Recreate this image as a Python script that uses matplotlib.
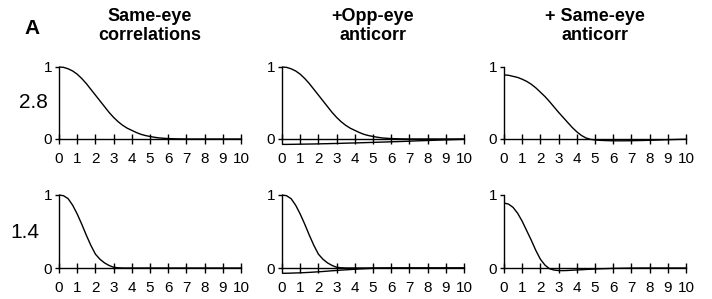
import matplotlib.pyplot as plt

plt.rcParams['font.family'] = ['Liberation Sans', 'DejaVu Sans']

# sample positions (x) and curve values
x = [0, 0.25, 0.5, 0.75, 1, 1.25, 1.5, 1.75, 2, 2.25, 2.5, 2.75, 3, 3.25, 3.5, 3.75,
     4, 4.25, 4.5, 4.75, 5, 5.25, 5.5, 5.75, 6, 6.5, 7, 7.5, 8, 8.5, 9, 9.5, 10]
same_28 = [1.0, 0.995, 0.975, 0.945, 0.9, 0.84, 0.77, 0.69, 0.61, 0.53, 0.45, 0.37,
           0.30, 0.24, 0.19, 0.15, 0.12, 0.09, 0.065, 0.048, 0.035, 0.024, 0.015,
           0.01, 0.006, 0.002, 0, 0, 0, 0, 0, 0, 0]
same_14 = [1.0, 0.99, 0.95, 0.86, 0.74, 0.6, 0.45, 0.31, 0.19, 0.12, 0.07, 0.035,
           0.01, 0.003, 0, 0, 0, 0, 0, 0, 0, 0, 0, 0, 0, 0, 0, 0, 0, 0, 0, 0, 0]
opp_28 = [-0.075, -0.075, -0.074, -0.073, -0.072, -0.071, -0.07, -0.069, -0.068,
          -0.066, -0.065, -0.063, -0.062, -0.06, -0.058, -0.056, -0.055, -0.053,
          -0.051, -0.049, -0.047, -0.045, -0.043, -0.041, -0.039, -0.035, -0.03,
          -0.025, -0.021, -0.016, -0.012, -0.008, -0.004]
opp_14 = [-0.072, -0.072, -0.07, -0.068, -0.066, -0.063, -0.06, -0.056, -0.052,
          -0.048, -0.043, -0.038, -0.034, -0.029, -0.025, -0.021, -0.017, -0.013,
          -0.01, -0.007, -0.004, -0.003, -0.002, -0.001, 0, 0, 0, 0, 0, 0, 0, 0, 0]
both_28 = [0.89, 0.885, 0.87, 0.855, 0.83, 0.8, 0.76, 0.71, 0.65, 0.59, 0.52, 0.445,
           0.37, 0.3, 0.23, 0.16, 0.1, 0.05, 0.015, -0.005, -0.013, -0.018, -0.021,
           -0.023, -0.025, -0.025, -0.024, -0.021, -0.018, -0.014, -0.01, -0.006, -0.003]
both_14 = [0.89, 0.875, 0.83, 0.75, 0.64, 0.51, 0.38, 0.24, 0.12, 0.04, -0.01, -0.028,
           -0.035, -0.036, -0.034, -0.03, -0.027, -0.024, -0.02, -0.017, -0.014, -0.011,
           -0.009, -0.007, -0.005, -0.003, -0.001, 0, 0, 0, 0, 0, 0]

titles = ['Same-eye\ncorrelations', '+Opp-eye\nanticorr', '+ Same-eye\nanticorr']
row_labels = ['2.8', '1.4']
xticks = list(range(11))

rows = [
    [[same_28], [same_28, opp_28], [both_28]],
    [[same_14], [same_14, opp_14], [both_14]],
]

W, H = 712, 299
fig = plt.figure(figsize=(W / 100, H / 100), dpi=100)

lefts = [59, 282, 504]
width_px = 182
# (y pixel of value 1, y pixel of value 0)
row_px = [(67, 139), (195, 268)]
ylo, yhi = -0.15, 1.02

for r, (p1, p0) in enumerate(row_px):
    unit = p0 - p1
    top = p1 - (yhi - 1) * unit
    bot = p0 - ylo * unit
    for c in range(3):
        ax = fig.add_axes([lefts[c] / W, (H - bot) / H, width_px / W, (bot - top) / H])
        for series in rows[r][c]:
            ax.plot(x, series, color='black', lw=1.0)
        ax.set_xlim(0, 10)
        ax.set_ylim(ylo, yhi)
        for s in ['top', 'right']:
            ax.spines[s].set_visible(False)
        ax.spines['bottom'].set_position(('data', 0))
        ax.spines['left'].set_bounds(0, 1)
        ax.spines['left'].set_linewidth(1.0)
        ax.spines['bottom'].set_linewidth(1.0)
        ax.set_xticks(xticks)
        ax.set_yticks([0, 1])
        ax.set_yticklabels(['0', '1'])
        ax.tick_params(axis='x', direction='inout', length=7, width=1.0,
                       labelsize=11, pad=6)
        ax.tick_params(axis='y', direction='out', length=3, width=1.0,
                       labelsize=11, pad=2)
        ax.patch.set_visible(False)

for c in range(3):
    fig.text((lefts[c] + width_px / 2) / W, 1 - 26 / H, titles[c],
             ha='center', va='center', fontsize=13, fontweight='bold',
             linespacing=1.15)

fig.text(32 / W, 1 - 29 / H, 'A', fontsize=15, fontweight='bold',
         ha='center', va='center')
fig.text(33 / W, 1 - 103 / H, row_labels[0], fontsize=15, ha='center', va='center')
fig.text(25 / W, 1 - 232 / H, row_labels[1], fontsize=15, ha='center', va='center')

fig.savefig('out.png', dpi=100)
